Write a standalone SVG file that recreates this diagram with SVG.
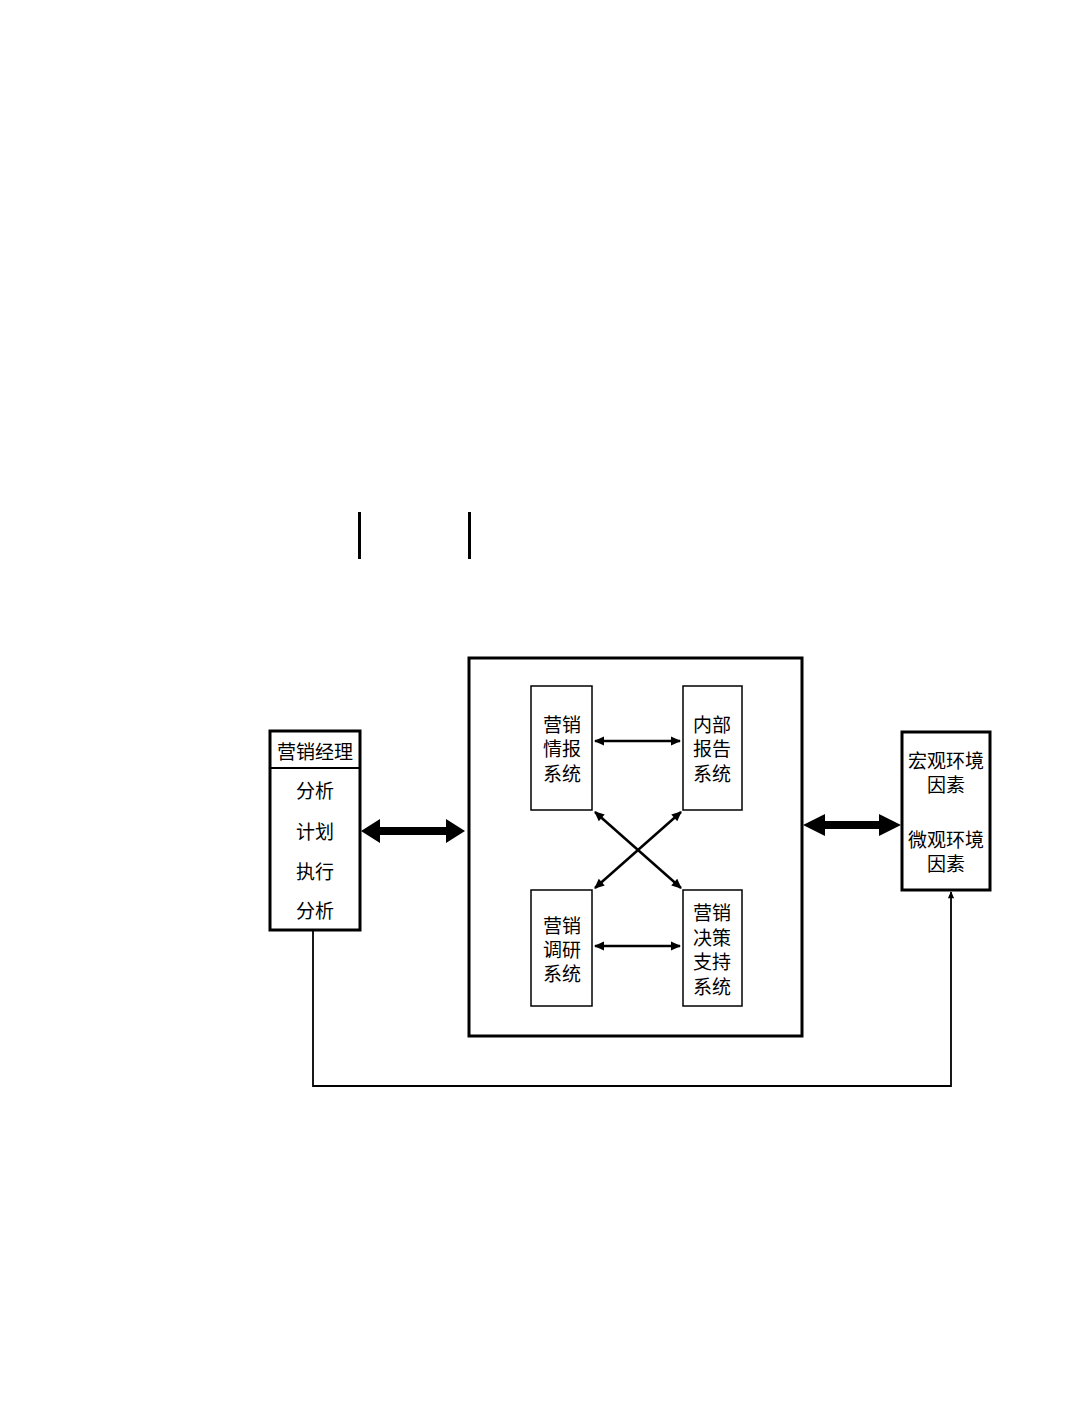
<svg xmlns="http://www.w3.org/2000/svg" width="1080" height="1404" viewBox="0 0 1080 1404">
<defs>
<style>
.box{fill:#fff;stroke:#000;stroke-width:3}
.ibox{fill:#fff;stroke:#000;stroke-width:1.5}
.t{font-family:"Noto Sans CJK SC","Liberation Sans",sans-serif;font-size:19px;fill:#000;text-anchor:middle;dominant-baseline:central}
.ln{fill:none;stroke:#000;stroke-width:2.5}
.thin{fill:none;stroke:#000;stroke-width:1.8}
</style>
<marker id="ah" viewBox="0 0 10 10" refX="9" refY="5" markerWidth="11" markerHeight="10" orient="auto-start-reverse" markerUnits="userSpaceOnUse">
<path d="M0,0.5 L10,5 L0,9.5 z" fill="#000"/>
</marker>
<marker id="ahs" viewBox="0 0 10 10" refX="9" refY="5" markerWidth="8" markerHeight="7" orient="auto-start-reverse" markerUnits="userSpaceOnUse">
<path d="M0,0.5 L10,5 L0,9.5 z" fill="#000"/>
</marker>
</defs>
<rect width="1080" height="1404" fill="#fff"/>
<line x1="359.5" y1="512" x2="359.5" y2="559" stroke="#000" stroke-width="3"/>
<line x1="469.5" y1="512" x2="469.5" y2="559" stroke="#000" stroke-width="3"/>
<g id="manager">
<rect class="box" x="270" y="731" width="90" height="199"/>
<line x1="270" y1="768" x2="360" y2="768" stroke="#000" stroke-width="2"/>
<text class="t" x="315" y="750">营销经理</text>
<text class="t" x="315" y="789">分析</text>
<text class="t" x="315" y="830">计划</text>
<text class="t" x="315" y="870">执行</text>
<text class="t" x="315" y="909">分析</text>
</g>
<g id="mis">
<rect class="box" x="469" y="658" width="333" height="378"/>
</g>
<g id="intel">
<rect class="ibox" x="531" y="686" width="61" height="124"/>
<text class="t" x="562" y="723">营销</text>
<text class="t" x="562" y="747">情报</text>
<text class="t" x="562" y="772">系统</text>
</g>
<g id="internal">
<rect class="ibox" x="683" y="686" width="59" height="124"/>
<text class="t" x="712" y="723">内部</text>
<text class="t" x="712" y="747">报告</text>
<text class="t" x="712" y="772">系统</text>
</g>
<g id="research">
<rect class="ibox" x="531" y="890" width="61" height="116"/>
<text class="t" x="562" y="924">营销</text>
<text class="t" x="562" y="948">调研</text>
<text class="t" x="562" y="972">系统</text>
</g>
<g id="dss">
<rect class="ibox" x="683" y="890" width="59" height="116"/>
<text class="t" x="712" y="911">营销</text>
<text class="t" x="712" y="936">决策</text>
<text class="t" x="712" y="960">支持</text>
<text class="t" x="712" y="985">系统</text>
</g>
<g id="env">
<rect class="box" x="902" y="732" width="88" height="158"/>
<text class="t" x="946" y="759">宏观环境</text>
<text class="t" x="946" y="783">因素</text>
<text class="t" x="946" y="838">微观环境</text>
<text class="t" x="946" y="862">因素</text>
</g>
<g id="connectors">
<polygon points="361,831 380,819 380,827 446,827 446,819 465,831 446,843 446,835 380,835 380,843" fill="#000"/>
<polygon points="803,825 825,814 825,821 879,821 879,814 901,825 879,836 879,829 825,829 825,836" fill="#000"/>
<line class="ln" x1="595" y1="741" x2="680" y2="741" marker-start="url(#ah)" marker-end="url(#ah)"/>
<line class="ln" x1="595" y1="946" x2="680" y2="946" marker-start="url(#ah)" marker-end="url(#ah)"/>
<line class="ln" x1="595" y1="812" x2="681" y2="888" stroke-width="3" marker-start="url(#ah)" marker-end="url(#ah)"/>
<line class="ln" x1="681" y1="812" x2="595" y2="888" stroke-width="3" marker-start="url(#ah)" marker-end="url(#ah)"/>
<polyline class="thin" points="313,931 313,1086 951,1086 951,892" marker-end="url(#ahs)"/>
</g>
</svg>
